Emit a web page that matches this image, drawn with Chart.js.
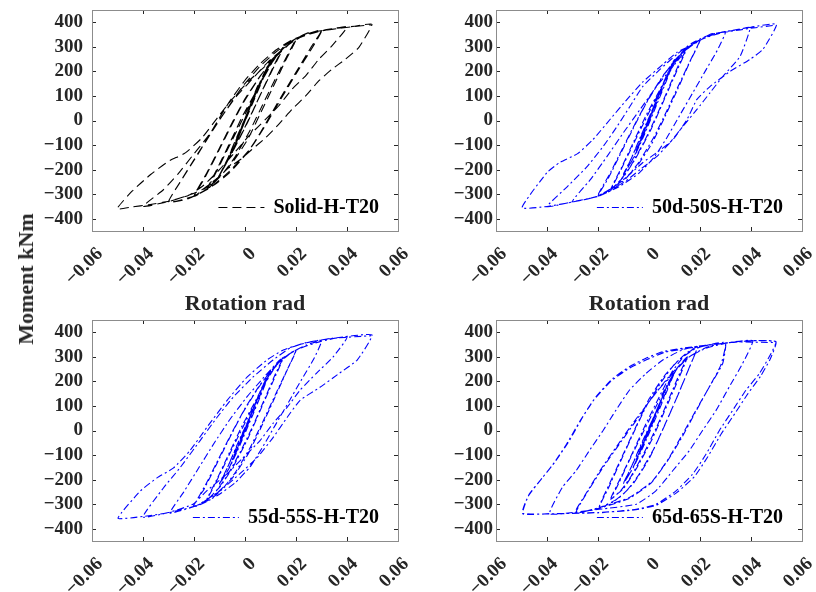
<!DOCTYPE html>
<html>
<head>
<meta charset="utf-8">
<script src="https://cdn.jsdelivr.net/npm/chart.js@4.4.0/dist/chart.umd.min.js"></script>
<style>
  body { margin: 0; background: #fff; width: 816px; height: 592px; overflow: hidden; position: relative; font-family: "Liberation Serif", "Times New Roman", serif; }
  canvas { position: absolute; }
  .ttl { position: absolute; font-weight: bold; font-size: 22px; color: #262626; white-space: nowrap; transform: translate(-50%, -50%); }
</style>
</head>
<body>
<canvas id="c1" width="408" height="300" style="left:0;top:0"></canvas>
<canvas id="c2" width="408" height="300" style="left:408px;top:0"></canvas>
<canvas id="c3" width="408" height="282" style="left:0;top:310px"></canvas>
<canvas id="c4" width="408" height="282" style="left:408px;top:310px"></canvas>
<div class="ttl" style="left:245px;top:303px">Rotation rad</div>
<div class="ttl" style="left:649px;top:303px">Rotation rad</div>
<div class="ttl" style="left:26px;top:279px;transform:translate(-50%,-50%) rotate(-90deg)">Moment kNm</div>
<script>
// тики осей
const xTicks = [-0.06, -0.04, -0.02, 0, 0.02, 0.04, 0.06];
const yTicks = [-400, -300, -200, -100, 0, 100, 200, 300, 400];

const names = ["Solid-H-T20", "50d-50S-H-T20", "55d-55S-H-T20", "65d-65S-H-T20"];

// петли гистерезиса [rotation, moment]
const solidPath = [
  [0,0],[0.0025,72],[0.0008,25],[-0.0025,-65],[-0.0008,-22],[0.0025,74],[0.0008,26],[-0.0025,-66],[-0.001,-28],
  [0.005,140],[0.003,88],[0,8],[-0.005,-128],[-0.003,-80],[0,-2],[0.005,142],[0.003,90],[0,6],[-0.005,-130],[-0.002,-55],
  [0.004,108],[0.007,180],[0.01,242],[0.008,196],[0.004,100],[0,4],[-0.004,-98],[-0.007,-168],[-0.01,-224],[-0.008,-182],[-0.004,-92],[0,8],[0.004,110],[0.007,182],[0.01,240],[0.007,168],[0.003,70],[-0.002,-52],[-0.006,-146],[-0.01,-222],[-0.007,-160],[-0.003,-62],
  [0.002,55],[0.007,175],[0.011,250],[0.015,298],[0.012,238],[0.008,150],[0.003,38],[-0.002,-68],[-0.007,-168],[-0.011,-238],[-0.015,-284],[-0.012,-225],[-0.008,-142],[-0.003,-38],[0.002,68],[0.007,168],[0.011,242],[0.015,296],[0.011,212],[0.006,104],[0.001,-8],[-0.005,-130],[-0.01,-222],[-0.015,-282],[-0.011,-198],[-0.006,-92],[-0.001,18],
  [0.004,112],[0.009,212],[0.014,283],[0.02,334],[0.017,274],[0.012,172],[0.007,66],[0.002,-40],[-0.004,-150],[-0.009,-220],[-0.014,-272],[-0.02,-310],[-0.016,-238],[-0.011,-138],[-0.006,-34],[-0.001,66],[0.005,166],[0.01,236],[0.015,292],[0.02,330],[0.016,246],[0.011,136],[0.006,28],[0.001,-78],[-0.005,-172],[-0.011,-238],[-0.02,-308],[-0.015,-214],[-0.01,-112],[-0.005,-8],
  [0,88],[0.006,182],[0.012,258],[0.018,316],[0.024,350],[0.03,368],[0.026,300],[0.021,214],[0.016,128],[0.011,40],[0.006,-50],[0.001,-130],[-0.006,-212],[-0.012,-262],[-0.02,-308],[-0.03,-333],[-0.026,-260],[-0.021,-176],[-0.016,-94],[-0.011,-6],[-0.006,78],[0,164],[0.006,232],[0.012,286],[0.018,326],[0.024,352],[0.03,366],[0.026,290],[0.02,190],[0.014,86],[0.008,-20],[0.002,-116],[-0.006,-206],[-0.014,-276],[-0.022,-318],[-0.03,-332],[-0.025,-244],[-0.019,-146],[-0.013,-46],[-0.007,48],
  [-0.001,138],[0.006,222],[0.012,278],[0.018,322],[0.025,352],[0.032,370],[0.04,381],[0.034,303],[0.0289,249],[0.0237,181],[0.0184,127],[0.0132,59],[0.0093,18],[0.0054,-23],[0.0014,-64],[-0.004,-130],[-0.01,-200],[-0.016,-262],[-0.022,-304],[-0.03,-330],[-0.04,-350],
  [-0.032,-282],[-0.026,-214],[-0.0208,-146],[-0.015,-71],[-0.009,18],[-0.0038,93],[0.0027,167],[0.009,238],[0.015,292],[0.021,336],[0.028,360],[0.036,376],[0.043,384],[0.0498,392],
  [0.0446,297],[0.0393,249],[0.034,208],[0.0289,161],[0.0237,99],[0.0184,45],[0.0132,-16],[0.008,-71],[0.0027,-118],[-0.0018,-159],[-0.0064,-193],[-0.0116,-241],[-0.0169,-282],[-0.0234,-309],[-0.03,-329],[-0.0378,-343],[-0.0443,-352],[-0.0502,-360],
  [-0.0443,-288],[-0.037,-220],[-0.03,-166],[-0.0234,-132],[-0.0169,-71],[-0.0103,18],[-0.0051,86],[0.0014,160],[0.008,222],[0.0132,276],[0.0184,324],[0.025,358],[0.034,371],[0.042,382],[0.0495,390]
];

const path50 = [
  [0,0],[0.0025,68],[0.0008,22],[-0.0025,-60],[-0.0008,-20],[0.0025,70],[0.0008,24],[-0.0025,-62],[-0.001,-26],
  [0.005,135],[0.003,84],[0,4],[-0.005,-122],[-0.003,-74],[0,2],[0.005,138],[0.003,86],[0,6],[-0.005,-124],[-0.002,-52],
  [0.004,106],[0.007,184],[0.01,250],[0.008,198],[0.004,96],[0,-4],[-0.004,-104],[-0.007,-170],[-0.01,-220],[-0.008,-178],[-0.004,-86],[0,10],[0.004,112],[0.007,186],[0.01,248],[0.007,166],[0.003,64],[-0.002,-62],[-0.006,-152],[-0.01,-218],[-0.007,-156],[-0.003,-58],
  [0.002,60],[0.007,180],[0.011,254],[0.015,300],[0.012,236],[0.008,140],[0.003,20],[-0.002,-88],[-0.007,-182],[-0.011,-240],[-0.015,-282],[-0.012,-222],[-0.008,-136],[-0.003,-30],[0.002,74],[0.007,176],[0.011,248],[0.015,298],[0.011,204],[0.006,86],[0.001,-32],[-0.005,-150],[-0.01,-230],[-0.015,-280],[-0.011,-196],[-0.006,-86],[-0.001,24],
  [0.004,120],[0.009,220],[0.014,288],[0.02,328],[0.017,262],[0.012,152],[0.007,40],[0.002,-66],[-0.004,-170],[-0.009,-236],[-0.014,-280],[-0.02,-308],[-0.016,-236],[-0.011,-132],[-0.006,-28],[-0.001,72],[0.005,172],[0.01,244],[0.015,296],[0.02,326],[0.016,238],[0.011,122],[0.006,10],[0.001,-96],[-0.005,-190],[-0.011,-250],[-0.02,-306],[-0.015,-210],[-0.01,-106],[-0.005,-4],
  [0,92],[0.006,190],[0.012,264],[0.018,318],[0.024,346],[0.03,362],[0.027,290],[0.022,200],[0.017,110],[0.012,20],[0.007,-70],[0.002,-150],[-0.004,-215],[-0.011,-265],[-0.019,-305],[-0.03,-330],[-0.023,-241],[-0.0165,-147],[-0.01,-49],[-0.0035,45],[0.003,139],[0.0094,220],[0.0149,290],[0.021,332],[0.03,362],
  [0.034,368],[0.0396,378],[0.0357,261],[0.029,180],[0.024,114],[0.0188,45],[0.0133,-24],[0.0082,-90],[0.003,-147],[-0.0035,-200],[-0.01,-253],[-0.017,-290],[-0.0204,-310],[-0.03,-331],[-0.04,-351],
  [-0.032,-269],[-0.0243,-188],[-0.018,-106],[-0.0125,-24],[-0.0075,57],[-0.0024,139],[0.0043,208],[0.011,270],[0.0173,318],[0.024,350],[0.032,366],[0.04,380],[0.05,392],
  [0.0447,290],[0.0396,249],[0.0318,200],[0.024,139],[0.0188,86],[0.0149,4],[0.0094,-78],[0.003,-131],[-0.0024,-171],[-0.0086,-229],[-0.0153,-282],[-0.0204,-310],[-0.03,-332],[-0.04,-350],[-0.0498,-355],
  [-0.04,-212],[-0.035,-171],[-0.028,-135],[-0.022,-78],[-0.0153,4],[-0.0086,86],[-0.0024,157],[0.0055,229],[0.011,278],[0.016,303],[0.024,351],[0.032,363],[0.0396,375],[0.0495,388]
];

const path55 = [
  [0,0],[0.0025,66],[0.0008,21],[-0.0025,-60],[-0.0008,-20],[0.0025,68],[0.0008,23],[-0.0025,-61],[-0.001,-25],
  [0.005,132],[0.003,82],[0,4],[-0.005,-120],[-0.003,-72],[0,2],[0.005,135],[0.003,84],[0,6],[-0.005,-122],[-0.002,-50],
  [0.004,104],[0.007,182],[0.01,246],[0.008,196],[0.004,94],[0,-4],[-0.004,-102],[-0.007,-168],[-0.01,-218],[-0.008,-176],[-0.004,-84],[0,10],[0.004,110],[0.007,184],[0.01,245],[0.007,164],[0.003,62],[-0.002,-60],[-0.006,-150],[-0.01,-216],[-0.007,-154],[-0.003,-56],
  [0.002,58],[0.007,178],[0.011,252],[0.015,298],[0.012,232],[0.008,136],[0.003,16],[-0.002,-90],[-0.007,-184],[-0.011,-242],[-0.015,-284],[-0.012,-224],[-0.008,-138],[-0.003,-32],[0.002,72],[0.007,174],[0.011,246],[0.015,296],[0.011,200],[0.006,82],[0.001,-36],[-0.005,-154],[-0.01,-232],[-0.015,-282],[-0.011,-198],[-0.006,-88],[-0.001,22],
  [0.004,118],[0.009,218],[0.014,286],[0.02,328],[0.017,258],[0.012,148],[0.007,36],[0.002,-70],[-0.004,-174],[-0.009,-240],[-0.014,-284],[-0.0204,-312],[-0.016,-238],[-0.011,-134],[-0.006,-30],[-0.001,70],[0.005,170],[0.01,242],[0.015,294],[0.02,326],[0.016,234],[0.011,118],[0.006,6],[0.001,-100],[-0.005,-194],[-0.011,-254],[-0.02,-310],[-0.015,-212],[-0.01,-108],[-0.005,-6],
  [0,90],[0.006,188],[0.012,262],[0.018,316],[0.024,348],[0.03,365],[0.027,292],[0.022,204],[0.017,114],[0.012,24],[0.007,-66],[0.002,-148],[-0.004,-214],[-0.011,-266],[-0.019,-306],[-0.0294,-336],[-0.024,-250],[-0.018,-150],[-0.012,-50],[-0.006,44],[0.001,140],[0.008,224],[0.014,290],[0.021,332],[0.03,364],
  [0.04,380],[0.0345,299],[0.028,233],[0.0216,164],[0.0165,94],[0.011,29],[0.0059,-41],[-0.0008,-111],[-0.007,-176],[-0.015,-246],[-0.0204,-300],[-0.03,-334],[-0.04,-352],
  [-0.032,-234],[-0.0255,-152],[-0.0176,-41],[-0.011,53],[-0.0047,135],[0.0031,217],[0.011,287],[0.018,338],[0.026,362],[0.036,378],[0.0498,389],
  [0.044,287],[0.037,233],[0.0294,176],[0.0216,123],[0.0165,53],[0.011,-29],[0.0047,-111],[-0.002,-176],[-0.0098,-246],[-0.0176,-299],[-0.022,-315],[-0.03,-335],[-0.04,-350],[-0.0498,-357],
  [-0.041,-246],[-0.0345,-193],[-0.028,-152],[-0.0216,-82],[-0.015,12],[-0.007,123],[0.0008,217],[0.0086,287],[0.015,328],[0.024,358],[0.034,375],[0.0495,386]
];

const path65 = [
  [0,0],[0.0025,62],[0.0008,20],[-0.0025,-58],[-0.0008,-18],[0.0025,64],[0.0008,22],[-0.0025,-60],[-0.001,-24],
  [0.005,128],[0.003,80],[0,4],[-0.005,-118],[-0.003,-72],[0,2],[0.005,130],[0.003,82],[0,6],[-0.005,-120],[-0.002,-50],
  [0.004,100],[0.007,180],[0.01,238],[0.008,190],[0.004,92],[0,-4],[-0.004,-100],[-0.007,-166],[-0.01,-215],[-0.008,-172],[-0.004,-82],[0,10],[0.004,108],[0.007,182],[0.01,236],[0.007,160],[0.003,60],[-0.002,-60],[-0.006,-148],[-0.01,-214],[-0.007,-150],[-0.003,-54],
  [0.002,58],[0.007,176],[0.011,252],[0.015,300],[0.012,232],[0.008,134],[0.003,14],[-0.002,-92],[-0.007,-186],[-0.011,-244],[-0.015,-280],[-0.012,-218],[-0.008,-128],[-0.003,-22],[0.002,82],[0.007,184],[0.011,254],[0.015,298],[0.011,196],[0.006,76],[0.001,-40],[-0.005,-156],[-0.01,-236],[-0.015,-278],[-0.011,-190],[-0.006,-80],[-0.001,32],
  [0.004,136],[0.009,238],[0.014,306],[0.019,340],[0.016,262],[0.012,160],[0.007,42],[0.002,-72],[-0.004,-180],[-0.009,-248],[-0.014,-290],[-0.0195,-314],[-0.016,-236],[-0.011,-122],[-0.006,-8],[-0.001,100],[0.005,200],[0.01,270],[0.015,318],[0.019,340],[0.015,236],[0.01,112],[0.005,-6],[0,-116],[-0.006,-214],[-0.012,-276],[-0.0195,-312],[-0.015,-206],[-0.01,-94],[-0.005,18],
  [0,128],[0.006,222],[0.012,290],[0.018,332],[0.024,350],[0.03,358],[0.0289,273],[0.0237,178],[0.0184,82],[0.0132,-14],[0.008,-109],[0.0014,-205],[-0.0077,-273],[-0.0195,-314],[-0.0286,-335],
  [-0.0247,-260],[-0.018,-150],[-0.0116,-55],[-0.005,41],[0.0014,137],[0.0093,232],[0.0158,300],[0.022,336],[0.03,356],[0.028,262],[0.023,166],[0.018,70],[0.013,-26],[0.0075,-120],[0.001,-212],[-0.008,-278],[-0.02,-318],[-0.029,-335],
  [-0.025,-262],[-0.019,-160],[-0.0125,-62],[-0.006,34],[0.001,130],[0.008,222],[0.015,294],[0.022,334],[0.0315,358],[0.0407,366],
  [0.0367,273],[0.0315,178],[0.0263,82],[0.021,0],[0.0158,-82],[0.0093,-164],[0.0027,-246],[-0.005,-300],[-0.0195,-321],[-0.029,-333],[-0.039,-339],
  [-0.034,-232],[-0.0286,-164],[-0.0234,-82],[-0.018,0],[-0.013,82],[-0.0077,164],[-0.0012,232],[0.0054,287],[0.013,328],[0.0184,342],[0.0315,358],[0.0407,366],[0.0498,362],
  [0.0472,301],[0.0433,232],[0.038,164],[0.0328,82],[0.0276,0],[0.0224,-96],[0.0171,-178],[0.0106,-246],[0.0027,-301],[-0.005,-321],[-0.0195,-335],[-0.039,-339],[-0.0495,-339],
  [-0.047,-260],[-0.0417,-191],[-0.0365,-123],[-0.0312,-41],[-0.026,55],[-0.0208,137],[-0.0142,212],[-0.0077,260],[-0.0012,294],[0.0054,321],[0.0132,335],[0.0184,342],[0.0315,358],[0.0407,366],[0.0498,360],
  [0.0475,290],[0.0438,222],[0.0388,150],[0.0336,68],[0.0283,-14],[0.023,-108],[0.0178,-188],[0.011,-252],[0.003,-304],[-0.006,-324],[-0.02,-334],[-0.0495,-337],
  [-0.0475,-270],[-0.0428,-205],[-0.0378,-140],[-0.0326,-60],[-0.0272,36],[-0.022,120],[-0.015,200],[-0.008,252],[-0.001,288],[0.006,318],[0.0184,340],[0.034,360],[0.0495,358]
];

const tickFont = { family: '"Liberation Serif", "Times New Roman", serif', size: 19, weight: 'bold' };
const minus = v => (v < 0 ? '\u2212' : '') + Math.abs(v);

// рамка и внутренние засечки со всех четырёх сторон
const framePlugin = {
  id: 'frameTicks',
  afterDraw(chart) {
    const { ctx, chartArea: a, scales } = chart;
    ctx.save();
    ctx.lineWidth = 1;
    ctx.strokeStyle = '#262626';
    ctx.beginPath();
    xTicks.forEach(v => {
      const px = Math.round(scales.x.getPixelForValue(v)) + 0.5;
      ctx.moveTo(px, a.bottom); ctx.lineTo(px, a.bottom - 4);
      ctx.moveTo(px, a.top); ctx.lineTo(px, a.top + 4);
    });
    yTicks.forEach(v => {
      const py = Math.round(scales.y.getPixelForValue(v)) + 0.5;
      ctx.moveTo(a.left, py); ctx.lineTo(a.left + 4, py);
      ctx.moveTo(a.right, py); ctx.lineTo(a.right - 4, py);
    });
    ctx.stroke();
    ctx.strokeStyle = '#8c8c8c';
    ctx.strokeRect(Math.round(a.left) + 0.5, Math.round(a.top) + 0.5, Math.round(a.right - a.left), Math.round(a.bottom - a.top));
    ctx.restore();
  }
};

// легенда внутри поля графика, внизу справа
const legendPlugin = {
  id: 'insideLegend',
  afterDraw(chart) {
    const { ctx, chartArea: a } = chart;
    const ds = chart.data.datasets[0];
    ctx.save();
    ctx.font = 'bold 20px "Liberation Serif", "Times New Roman", serif';
    const w = ctx.measureText(ds.label).width;
    const textLeft = a.right - 19 - w;
    const y = a.bottom - 24;
    ctx.strokeStyle = ds.borderColor;
    ctx.lineWidth = 1;
    ctx.setLineDash(ds.borderDash);
    ctx.beginPath();
    ctx.moveTo(textLeft - 55, y + 0.5);
    ctx.lineTo(textLeft - 9, y + 0.5);
    ctx.stroke();
    ctx.setLineDash([]);
    ctx.fillStyle = '#000';
    ctx.textBaseline = 'middle';
    ctx.fillText(ds.label, textLeft, y + 1);
    ctx.restore();
  }
};

function xLabel(v) {
  if (v === 0) return '0';
  return minus(Number(v.toFixed(2))).replace(/(\d)$/, '$1').replace(/^(\u2212?)0?\.(\d)$/, '$10.$20');
}

function makePanel(id, path, name, color, dash, yWidth, yPad, padRight, xHeight) {
  new Chart(document.getElementById(id), {
    type: 'scatter',
    data: {
      datasets: [{
        label: name,
        data: path.map(p => ({ x: p[0], y: p[1] })),
        showLine: true,
        borderColor: color,
        borderWidth: 1.1,
        borderDash: dash,
        pointRadius: 0,
        tension: 0.15,
        fill: false
      }]
    },
    options: {
      responsive: false,
      animation: false,
      layout: { padding: { left: 0, right: padRight, top: 10, bottom: 0 } },
      plugins: { legend: { display: false }, tooltip: { enabled: false } },
      scales: {
        x: {
          type: 'linear', min: -0.06, max: 0.06,
          afterBuildTicks: s => { s.ticks = xTicks.map(v => ({ value: v })); },
          afterFit: s => { s.height = xHeight; s.paddingLeft = 0; s.paddingRight = 0; },
          grid: { display: false, drawTicks: false }, border: { display: false },
          ticks: { autoSkip: false, minRotation: 45, maxRotation: 45, padding: 12, labelOffset: 8, color: '#262626', font: tickFont,
                   callback: v => xLabel(v) }
        },
        y: {
          type: 'linear', min: -450, max: 450,
          afterBuildTicks: s => { s.ticks = yTicks.map(v => ({ value: v })); },
          afterFit: s => { s.width = yWidth; s.paddingTop = 0; s.paddingBottom = 0; },
          grid: { display: false, drawTicks: false }, border: { display: false },
          ticks: { autoSkip: false, padding: yPad, color: '#262626', font: tickFont, callback: v => minus(v) }
        }
      }
    },
    plugins: [framePlugin, legendPlugin]
  });
}

const dashLine = [9, 5];
const dashDot = [7, 3, 2, 3];
makePanel('c1', solidPath, names[0], '#000000', dashLine, 92, 9, 10, 69);
makePanel('c2', path50, names[1], '#0000ff', dashDot, 88, 3, 14, 69);
makePanel('c3', path55, names[2], '#0000ff', dashDot, 92, 9, 10, 51);
makePanel('c4', path65, names[3], '#0000ff', dashDot, 88, 3, 14, 51);
</script>
</body>
</html>
